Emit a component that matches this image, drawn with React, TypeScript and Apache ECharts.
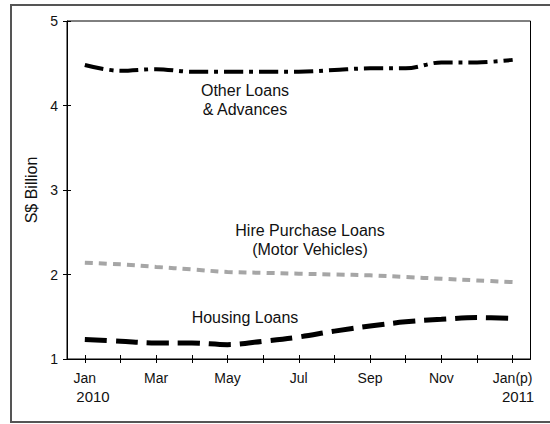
import React, { useEffect, useRef } from "react";
import * as echarts from "echarts";

const months = ["Jan", "Feb", "Mar", "Apr", "May", "Jun", "Jul", "Aug", "Sep", "Oct", "Nov", "Dec", "Jan(p)"];
const otherLoans = [4.48, 4.41, 4.43, 4.40, 4.40, 4.40, 4.40, 4.42, 4.44, 4.44, 4.51, 4.51, 4.54];
const hirePurchase = [2.14, 2.12, 2.09, 2.06, 2.03, 2.02, 2.01, 2.00, 1.99, 1.97, 1.95, 1.93, 1.91];
const housingLoans = [1.23, 1.21, 1.19, 1.19, 1.17, 1.21, 1.26, 1.33, 1.39, 1.44, 1.47, 1.49, 1.48];
const yTicks = { min: 1, max: 5, interval: 1 };
const yearLabels = ["2010", "2011"];

const FONT = "'Liberation Sans', Arial, sans-serif";

export default function App() {
  const ref = useRef<HTMLDivElement>(null);
  useEffect(() => {
    if (!ref.current) return;
    const chart = echarts.init(ref.current, null, { renderer: "svg" });
    const axisCommonX = {
      type: "category" as const,
      data: months,
      boundaryGap: true,
      position: "bottom" as const,
    };
    chart.setOption({
      animation: false,
      backgroundColor: "#ffffff",
      textStyle: { fontFamily: FONT },
      grid: {
        left: 67,
        right: 19.5,
        top: 21,
        bottom: 65,
        show: true,
        borderColor: "#000",
        borderWidth: 1,
        backgroundColor: "transparent",
      },
      xAxis: [
        {
          ...axisCommonX,
          axisLine: { show: true, lineStyle: { color: "#000", width: 1 } },
          axisTick: { show: true, alignWithLabel: true, interval: 0, length: 4, lineStyle: { color: "#000" } },
          axisLabel: {
            interval: 1,
            margin: 12,
            color: "#111",
            fontSize: 14,
            fontFamily: FONT,
          },
          splitLine: { show: false },
        },
        {
          ...axisCommonX,
          axisLine: { show: false },
          axisTick: { show: true, inside: true, alignWithLabel: true, interval: 0, length: 4, lineStyle: { color: "#000" } },
          axisLabel: { show: false },
          splitLine: { show: false },
        },
      ],
      yAxis: [
        {
          type: "value",
          ...yTicks,
          position: "left",
          name: "S$ Billion",
          nameLocation: "middle",
          nameGap: 26,
          nameTextStyle: { color: "#111", fontSize: 16, fontFamily: FONT },
          axisLine: { show: true, lineStyle: { color: "#000", width: 1 } },
          axisTick: { show: true, length: 4, lineStyle: { color: "#000" } },
          axisLabel: { margin: 9, color: "#111", fontSize: 14, fontFamily: FONT },
          splitLine: { show: false },
        },
        {
          type: "value",
          ...yTicks,
          position: "left",
          axisLine: { show: false },
          axisTick: { show: true, inside: true, length: 4, lineStyle: { color: "#000" } },
          axisLabel: { show: false },
          splitLine: { show: false },
        },
      ],
      series: [
        {
          name: "Other Loans & Advances",
          type: "line",
          data: otherLoans,
          smooth: 0.35,
          symbol: "none",
          lineStyle: { color: "#000", width: 4, type: [19, 6, 4, 6], cap: "butt" },
        },
        {
          name: "Hire Purchase Loans (Motor Vehicles)",
          type: "line",
          data: hirePurchase,
          smooth: 0.35,
          symbol: "none",
          lineStyle: { color: "#a6a6a6", width: 4, type: [8, 6], cap: "butt" },
        },
        {
          name: "Housing Loans",
          type: "line",
          data: housingLoans,
          smooth: 0.35,
          symbol: "none",
          lineStyle: { color: "#000", width: 5, type: [22, 9], cap: "butt" },
        },
      ],
      graphic: [
        {
          type: "rect",
          shape: { x: 11, y: 5, width: 560, height: 417 },
          style: { fill: "none", stroke: "#555", lineWidth: 2 },
          silent: true,
        },
        { type: "text", x: 245, y: 90, style: { text: "Other Loans", font: `16px ${FONT}`, fill: "#111", align: "center", verticalAlign: "middle" } },
        { type: "text", x: 245, y: 109, style: { text: "& Advances", font: `16px ${FONT}`, fill: "#111", align: "center", verticalAlign: "middle" } },
        { type: "text", x: 310, y: 230, style: { text: "Hire Purchase Loans", font: `16px ${FONT}`, fill: "#111", align: "center", verticalAlign: "middle" } },
        { type: "text", x: 310, y: 249, style: { text: "(Motor Vehicles)", font: `16px ${FONT}`, fill: "#111", align: "center", verticalAlign: "middle" } },
        { type: "text", x: 245, y: 317, style: { text: "Housing Loans", font: `16px ${FONT}`, fill: "#111", align: "center", verticalAlign: "middle" } },
        { type: "text", x: 93, y: 396, style: { text: yearLabels[0], font: `15px ${FONT}`, fill: "#111", align: "center", verticalAlign: "middle" } },
        { type: "text", x: 518, y: 396, style: { text: yearLabels[1], font: `15px ${FONT}`, fill: "#111", align: "center", verticalAlign: "middle" } },
      ],
    });
    return () => chart.dispose();
  }, []);
  return (
    <div
      ref={ref}
      style={{ position: "absolute", left: 0, top: 0, width: 550, height: 424 }}
    />
  );
}
